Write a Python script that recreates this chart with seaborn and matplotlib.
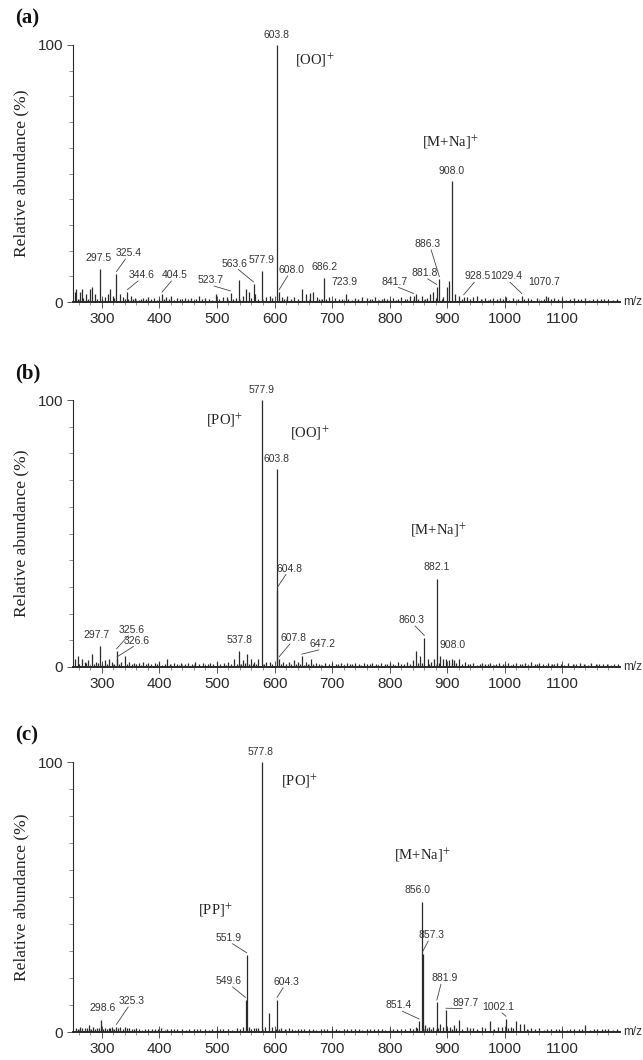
import numpy as np
import pandas as pd
import matplotlib
matplotlib.use("Agg")
import matplotlib.pyplot as plt
import seaborn as sns

sns.set_theme(style="ticks")
plt.rcParams["font.family"] = ["Liberation Sans", "DejaVu Sans"]
plt.rcParams["mathtext.fontset"] = "stix"

# ---------------- spectrum (a) ----------------
a_mz = [297.5, 325.4, 344.6, 404.5, 523.7, 563.6, 577.9, 603.8, 608.0, 686.2,
        723.9, 841.7, 881.8, 886.3, 908.0, 928.5, 1029.4, 1070.7,
        253, 256, 262, 266, 272, 280, 283, 288, 305, 310, 315, 319, 331, 336, 350,
        358, 372, 380, 390, 412, 420, 431, 445, 455, 468, 480, 499, 510, 517, 538,
        545, 551, 556, 566, 585, 592, 613, 622, 633, 648, 655, 662, 667, 673, 695,
        705, 740, 752, 760, 775, 790, 805, 820, 835, 846, 856, 870, 876, 893, 899,
        903, 913, 920, 935, 945, 952, 965, 980, 992, 1002, 1015, 1040, 1055, 1075,
        1085, 1100, 1120, 1140, 1160, 1180]
a_int = [13, 11, 4, 3, 3.5, 7, 12, 100, 4, 9.5,
         3, 2.5, 6, 9, 47, 2, 2.5, 2.5,
         4, 5, 4, 5, 3, 5, 6, 3, 2, 3, 5, 2.5, 3, 2, 2.5,
         1.5, 1.5, 2, 1.5, 2, 2.5, 1.5, 1.5, 1.5, 2.5, 1.5, 3, 2, 2, 8.5,
         2.5, 5, 4, 3, 2, 2.5, 2, 2.5, 2, 5, 3, 3.5, 4, 2, 2,
         1.5, 1.5, 2, 1.5, 2, 1.5, 1.5, 2, 2.5, 3, 2.5, 3, 4, 2, 6,
         8, 3, 2.5, 2, 2, 2.5, 1.5, 1.5, 1.5, 2, 1.5, 1.5, 1.5, 2,
         1.5, 1.5, 1.5, 1.5, 1, 1]
# low-level baseline signal of spectrum (a)
a_grass_mz = [259, 268, 276, 292, 301, 322, 340, 346, 354, 364, 368, 376, 385, 396, 400,
              408, 416, 425, 436, 440, 450, 460, 464, 474, 486, 492, 504, 528, 533, 560,
              572, 596, 617, 628, 640, 678, 683, 690, 700, 712, 718, 728, 734, 745, 765,
              770, 781, 786, 796, 800, 811, 815, 826, 830, 850, 861, 865, 881, 890, 925,
              940, 958, 970, 975, 986, 997, 1008, 1022, 1034, 1046, 1062, 1068, 1080,
              1092, 1106, 1113, 1127, 1133, 1147, 1153, 1167, 1173, 1187, 1194]
a_grass_int = [1.2, 1.5, 1, 1.3, 1, 1.4, 1.2, 1, 1.3, 0.9, 1.2, 1, 1.1, 0.9, 1.2,
               1, 1.3, 0.9, 1.1, 1, 1.2, 0.9, 1.1, 1, 1.2, 0.9, 1.3, 1.1, 1.4, 1.5,
               1.3, 1.4, 1.2, 1.1, 1.3, 1.2, 1, 1.1, 0.9, 1.2, 1, 1.1, 0.9, 1.2, 1,
               1.1, 0.9, 1.2, 1, 1.1, 0.9, 1.2, 1, 1.1, 1.3, 1.2, 1.4, 1.5, 1.3, 1.2,
               1, 1.1, 0.9, 1.2, 1, 1.1, 0.9, 1.2, 1, 1.1, 0.9, 1.2, 1,
               1.1, 0.9, 1.2, 1, 1.1, 0.9, 1.2, 1, 1.1, 0.9, 1]
a_labels = ["297.5", "325.4", "344.6", "404.5", "523.7", "563.6", "577.9", "603.8",
            "608.0", "686.2", "723.9", "841.7", "881.8", "886.3", "908.0", "928.5",
            "1029.4", "1070.7"]
# label anchor (m/z, %) for each labelled peak
a_lab_x = [295, 347, 369, 427, 489, 531, 578, 604, 629, 687, 722, 809, 860, 866, 908, 953, 1003, 1068]
a_lab_y = [15, 17, 8.5, 8.5, 6.5, 13, 14.5, 102, 10.5, 11.7, 6, 6, 9.3, 20.6, 49, 8, 8, 6]
a_species = [r"[OO]$^{+}$", r"[M+Na]$^{+}$"]
a_sp_x = [670, 906]
a_sp_y = [94, 62]

# ---------------- spectrum (b) ----------------
b_mz = [297.7, 325.6, 326.6, 537.8, 577.9, 603.8, 604.8, 607.8, 647.2, 860.3, 882.1, 908.0,
        253, 258, 265, 270, 276, 283, 290, 305, 312, 318, 333, 340, 348, 356, 365,
        372, 380, 392, 400, 413, 425, 438, 450, 462, 475, 488, 500, 512, 520, 530,
        545, 552, 559, 565, 571, 585, 592, 615, 625, 633, 640, 655, 663, 672, 688,
        700, 715, 725, 740, 755, 770, 785, 800, 815, 830, 840, 845, 852, 866, 872,
        877, 888, 893, 898, 903, 912, 920, 930, 945, 960, 975, 990, 1005, 1020,
        1035, 1045, 1060, 1075, 1090, 1110, 1130, 1150, 1170, 1190]
b_int = [8, 6, 3, 6, 100, 74, 29, 3, 4, 11, 33, 3,
         3, 4, 3, 2, 2.5, 5, 2, 2.5, 3, 2, 2, 4, 2, 1.5, 1.5,
         2, 1.5, 1.5, 2, 3, 1.5, 1.5, 1.5, 2, 1.5, 1.5, 2, 1.5, 2, 3,
         2.5, 5, 3, 2, 3, 2, 2, 2, 2, 2.5, 2, 2, 3, 1.5, 1.5,
         1.5, 1.5, 1.5, 1.5, 1.5, 1.5, 1.5, 1.5, 2, 2, 2.5, 6, 4, 3, 2,
         3, 4, 3, 3, 2.5, 2.5, 3, 2, 1.5, 1.5, 1.5, 1.5, 1.5, 1.5,
         1.5, 2, 1.5, 1.5, 1.5, 1.5, 1.5, 1.5, 1, 1]
b_grass_mz = [261, 273, 287, 294, 301, 309, 322, 330, 344, 352, 360, 368, 376, 386, 396,
              405, 409, 419, 430, 434, 444, 456, 468, 480, 484, 494, 505, 516, 525, 535,
              541, 548, 556, 562, 568, 581, 596, 611, 620, 629, 637, 644, 651, 659, 667,
              678, 683, 694, 706, 710, 720, 731, 735, 746, 750, 760, 765, 776, 780, 791,
              795, 806, 810, 820, 825, 835, 849, 856, 869, 885, 908, 916, 925, 936, 940,
              951, 956, 966, 970, 981, 985, 996, 1000, 1011, 1015, 1026, 1030, 1040,
              1052, 1056, 1067, 1071, 1082, 1086, 1097, 1103, 1118, 1124, 1138, 1144,
              1158, 1164, 1178, 1184, 1196]
b_grass_int = [1.3, 1.4, 1.2, 1.5, 1.3, 1.1, 1.2, 1.3, 1.1, 1, 1.2, 0.9, 1.1, 1, 1.2,
               0.9, 1.1, 1, 1.2, 0.9, 1.1, 1, 1.2, 0.9, 1.1, 1, 1.2, 0.9, 1.1, 1.3,
               1.2, 1.4, 1.3, 1.2, 1.1, 1.3, 1.2, 1.1, 1.2, 1, 1.2, 1.1, 0.9, 1.2, 1,
               1.1, 0.9, 1.2, 1, 1.1, 0.9, 1.2, 1, 1.1, 0.9, 1.2, 1, 1.1, 0.9, 1.2,
               1, 1.1, 0.9, 1.2, 1, 1.1, 1.4, 1.5, 1.3, 1.6, 1.5, 1.4, 1.2, 1, 1.1,
               0.9, 1.2, 1, 1.1, 0.9, 1.2, 1, 1.1, 0.9, 1.2, 1, 1.1, 0.9,
               1.2, 1, 1.1, 0.9, 1.2, 1, 1.1, 0.9, 1.2, 1, 1.1, 0.9,
               1.2, 1, 1.1, 0.9, 1]
b_labels = ["297.7", "325.6", "326.6", "537.8", "577.9", "603.8", "604.8", "607.8",
            "647.2", "860.3", "882.1", "908.0"]
b_lab_x = [290, 352, 361, 539, 578, 604, 626, 633, 683, 838, 882, 909]
b_lab_y = [10, 12, 8, 8.2, 102, 76, 35, 9, 6.7, 15.7, 35.5, 6.4]
b_species = [r"[PO]$^{+}$", r"[OO]$^{+}$", r"[M+Na]$^{+}$"]
b_sp_x = [514, 661, 885]
b_sp_y = [92.5, 87.6, 51]

# ---------------- spectrum (c) ----------------
c_mz = [298.6, 325.3, 549.6, 551.9, 577.8, 604.3, 851.4, 856.0, 857.3, 881.9, 897.7, 1002.1,
        255, 262, 270, 278, 285, 292, 305, 312, 318, 332, 340, 348, 360, 375, 388,
        402, 420, 440, 460, 480, 500, 520, 535, 545, 556, 565, 572, 583, 590, 596,
        612, 625, 640, 660, 680, 700, 720, 740, 760, 780, 800, 820, 835, 845, 862,
        868, 875, 888, 893, 905, 912, 920, 935, 945, 960, 975, 988, 995, 1010, 1020,
        1027, 1033, 1045, 1060, 1080, 1100, 1120, 1140, 1160, 1180]
c_int = [4.5, 2, 12, 28.5, 100, 12, 4, 48, 29, 11, 8, 5,
         1.5, 2, 1.5, 2.5, 2, 1.5, 1.5, 1.5, 2, 2, 2, 1.5, 1.5, 1, 1,
         1.5, 1, 1, 1, 1, 1, 1, 1.5, 2, 2, 1.5, 1.5, 2, 7, 2,
         1.5, 1.5, 1, 1, 1, 1, 1, 1, 1, 1, 1, 1, 1.5, 2, 2.5,
         2, 2, 3, 2, 2, 2.5, 4.5, 2, 1.5, 2, 4, 2, 2, 2, 4,
         3, 3, 1.5, 1.5, 1, 1, 1, 2.5, 1, 1]
c_grass_mz = [258, 266, 274, 282, 289, 296, 302, 309, 315, 322, 328, 336, 344, 352, 356,
              365, 370, 381, 393, 397, 409, 414, 426, 431, 446, 451, 466, 471, 486, 491,
              506, 511, 526, 540, 560, 568, 602, 608, 618, 631, 636, 646, 652, 666, 672,
              686, 692, 706, 712, 726, 732, 746, 752, 766, 772, 786, 792, 806, 812, 826,
              840, 848, 865, 872, 884, 899, 909, 916, 926, 940, 951, 966, 982, 1005, 1015,
              1038, 1052, 1068, 1074, 1088, 1094, 1108, 1114, 1128, 1134, 1148, 1154,
              1168, 1174, 1188, 1195]
c_grass_int = [1.2, 1.3, 1.4, 1.2, 1.1, 1.3, 1.2, 1, 1.3, 1.1, 1.4, 1.2, 1.3, 1.1, 1,
               1.1, 0.9, 1.2, 1, 1.1, 0.9, 1.2, 1, 1.1, 0.9, 1.2, 1, 1.1, 0.9, 1.2,
               1, 1.1, 0.9, 1.2, 1.1, 1.3, 1.2, 1.1, 1, 1.1, 0.9, 1.2, 1, 1.1, 0.9,
               1.2, 1, 1.1, 0.9, 1.2, 1, 1.1, 0.9, 1.2, 1, 1.1, 0.9, 1.2, 1, 1.1,
               1.2, 1.4, 1.3, 1.2, 1.5, 1.3, 1.2, 1.4, 1.2, 1.3, 1.2, 1.3, 1.2, 1.4, 1.3,
               1.2, 1.1, 0.9, 1.2, 1, 1.1, 0.9, 1.2, 1, 1.1, 0.9, 1.2,
               1, 1.1, 0.9, 1]
c_labels = ["298.6", "325.3", "549.6", "551.9", "577.8", "604.3", "851.4", "856.0",
            "857.3", "881.9", "897.7", "1002.1"]
c_lab_x = [301, 352, 521, 521, 576, 621, 816, 849, 873, 895, 932, 989]
c_lab_y = [7, 9.6, 17, 33, 102, 16.7, 8, 50.7, 34, 18, 9, 7.4]
c_species = [r"[PO]$^{+}$", r"[M+Na]$^{+}$", r"[PP]$^{+}$"]
c_sp_x = [643, 856, 498]
c_sp_y = [93, 65.5, 45]

panels = [
    ("(a)", a_mz, a_int, a_grass_mz, a_grass_int, a_labels, a_lab_x, a_lab_y,
     a_species, a_sp_x, a_sp_y),
    ("(b)", b_mz, b_int, b_grass_mz, b_grass_int, b_labels, b_lab_x, b_lab_y,
     b_species, b_sp_x, b_sp_y),
    ("(c)", c_mz, c_int, c_grass_mz, c_grass_int, c_labels, c_lab_x, c_lab_y,
     c_species, c_sp_x, c_sp_y),
]

W, H = 643, 1060
fig = plt.figure(figsize=(W / 100, H / 100), dpi=100)
# axes boxes in pixels: (zero line y, hundred line y)
boxes = [(302, 45), (667, 400), (1032, 762)]
x_left, x_right = 73, 620
ink = "#2a2a2a"
serif = ["Liberation Serif", "DejaVu Serif"]
narrow = ["Liberation Sans Narrow", "Liberation Sans", "DejaVu Sans"]

for (tag, mz, inten, gmz, gint, labels, lx, ly, sp, spx, spy), (y0, y100) in zip(panels, boxes):
    ax = fig.add_axes([x_left / W, 1 - y0 / H, (x_right - x_left) / W, (y0 - y100) / H])
    df = pd.DataFrame({"mz": list(mz) + list(gmz), "intensity": list(inten) + list(gint)})
    ax.vlines(df["mz"], 0, df["intensity"], color=ink, lw=0.9)
    ax.set_xlim(250, 1200)
    ax.set_ylim(0, 100)

    sns.despine(ax=ax, top=True, right=True)
    for s in ("left", "bottom"):
        ax.spines[s].set_color(ink)
    ax.spines["left"].set_linewidth(0.8)
    ax.spines["bottom"].set_linewidth(1.4)

    ax.set_xticks(range(300, 1101, 100))
    ax.set_xticks(range(260, 1200, 20), minor=True)
    ax.set_yticks([0, 100])
    ax.set_yticks(range(10, 100, 10), minor=True)
    ax.tick_params(axis="x", which="major", direction="inout", length=8, width=0.7,
                   color="#555", labelsize=11, pad=3, labelcolor="#2a2a2a")
    ax.tick_params(axis="x", which="minor", direction="inout", length=4, width=0.5, color="#666")
    ax.tick_params(axis="y", which="major", direction="out", length=4, width=0.7,
                   color="#555", labelsize=11, pad=3, labelcolor="#2a2a2a")
    ax.tick_params(axis="y", which="minor", direction="out", length=3, width=0.5, color="#666")
    ax.set_xlabel("")
    ax.set_ylabel("Relative abundance (%)", family=serif, fontsize=12.5, color="#222", labelpad=6)

    ax.text(1.005, 0, "m/z", transform=ax.transAxes, fontsize=8.5, va="center",
            ha="left", color="#333")

    for m, i, lab, tx, ty in zip(mz, inten, labels, lx, ly):
        ax.text(tx, ty, lab, fontsize=7.5, family=narrow, ha="center", va="bottom",
                color="#333", clip_on=False)
        # short leader from the label to its peak when the label sits aside
        if abs(tx - m) > 8 or ty - i > 4:
            ax.plot([tx + (6 if m > tx else -6) * (abs(tx - m) > 8), m],
                    [ty - 0.3, i + 0.8], color="#444", lw=0.6, clip_on=False)

    for t, x, y in zip(sp, spx, spy):
        ax.text(x, y, t, fontsize=10.5, family=serif, ha="center", va="center", color="#222")

    fig.text(15 / W, 1 - (y100 - 27) / H, tag, fontsize=15, fontweight="bold",
             family=serif, ha="left", va="center", color="#111")

fig.savefig("out.png", dpi=100, facecolor="white")
